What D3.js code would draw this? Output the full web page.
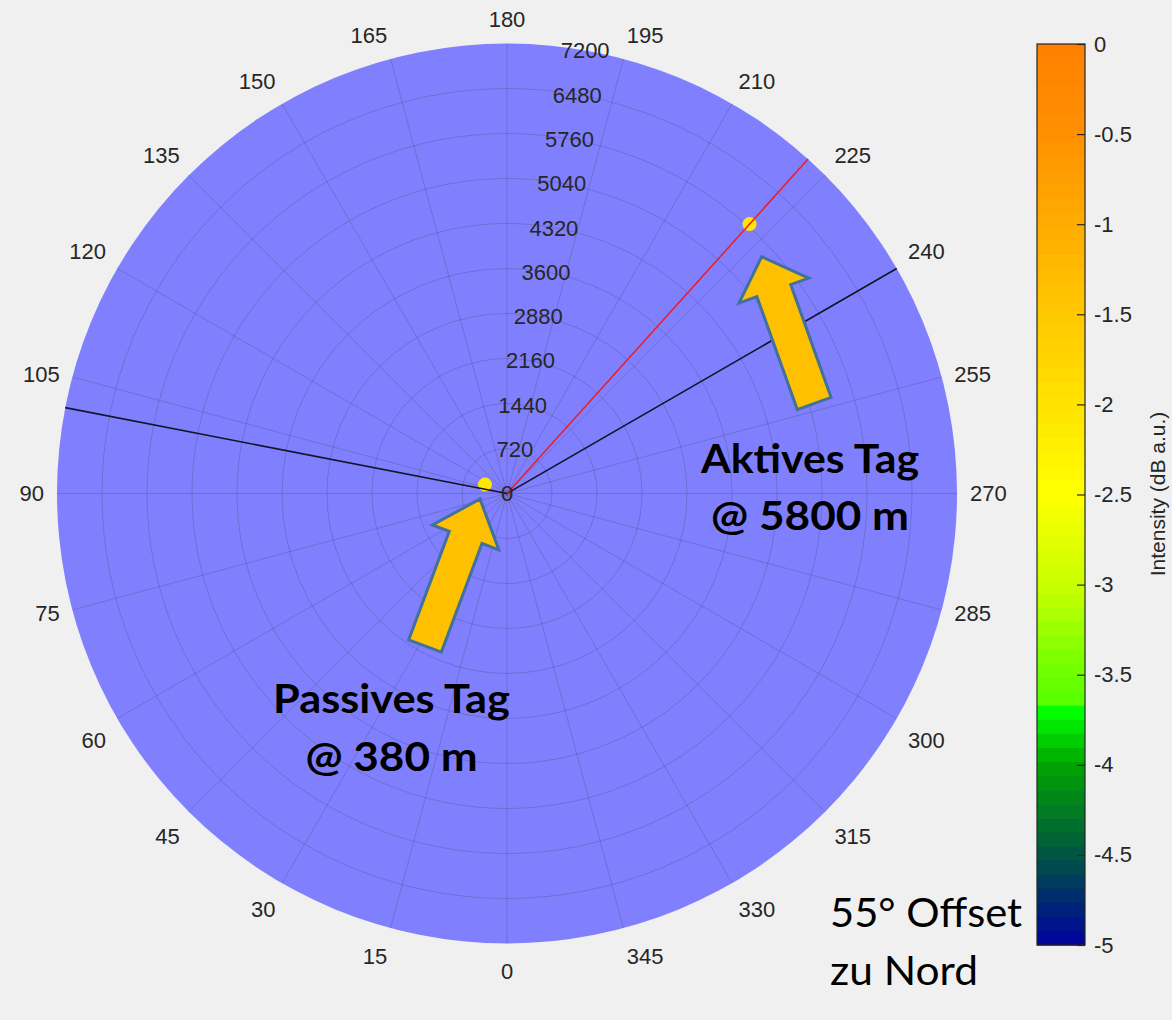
<!DOCTYPE html>
<html>
<head>
<meta charset="utf-8">
<script src="https://cdn.jsdelivr.net/npm/d3@7"></script>
<style>
  html, body { margin: 0; padding: 0; background: #f0f0f0; }
  svg { display: block; }
</style>
</head>
<body>
<svg id="chart" width="1172" height="1020"></svg>
<script>
// ---- data ----
const angleTicks = d3.range(0, 360, 15);                 // bearing grid, degrees
const rangeTicks = d3.range(0, 7201, 720);               // range rings, metres
const rangeMax = 7200;
const sectorEdges = [101, 240];                          // sector boundary bearings
const beamBearing = [222];                               // bearing of the active reading
const tagNames = ["Passives Tag", "Aktives Tag"];
const tagBearings = [112, 222];
const tagRanges = [380, 5800];
const tagIntensity = [-2.1, -2.1];
const cbTicks = [0, -0.5, -1, -1.5, -2, -2.5, -3, -3.5, -4, -4.5, -5];
const cmapValues = [0, -0.5, -1, -1.5, -2, -2.5, -3, -3.5, -3.70, -3.71, -4, -4.5, -5];
const cmapColors = ["#ff8000", "#ff9100", "#ffac00", "#ffc800", "#ffe200", "#ffff00",
                    "#c8ff00", "#6eff00", "#50ff00", "#00ff00", "#00a500", "#005541", "#0000a0"];
const tagLabelLines = [["Passives Tag", "@ 380 m"], ["Aktives Tag", "@ 5800 m"]];
const noteLines = ["55° Offset", "zu Nord"];
const cbTitle = "Intensity (dB a.u.)";

// ---- layout ----
const W = 1172, H = 1020;
const cx = 507, cy = 493.5, R = 450;
const axisFont = "'Liberation Sans', Arial, sans-serif";
const noteFont = "Lato, 'Open Sans', sans-serif";
const textGray = "#262626";

const svg = d3.select("#chart");
svg.append("rect").attr("width", W).attr("height", H).attr("fill", "#f0f0f0");

const r = d3.scaleLinear().domain([0, rangeMax]).range([0, R]);
// bearing 0 at the bottom, increasing clockwise
const a = d3.scaleLinear().domain([0, 360]).range([Math.PI, 3 * Math.PI]);
const pt = (deg, m) => d3.pointRadial(a(deg), r(m));

const polar = svg.append("g").attr("transform", `translate(${cx},${cy})`);

// disk
polar.append("circle").attr("r", R).attr("fill", "#8080ff");

// grid
const grid = polar.append("g").attr("fill", "none").attr("stroke", "#262626")
  .attr("stroke-opacity", 0.2).attr("stroke-width", 1);
grid.selectAll("circle").data(rangeTicks.filter(d => d > 0 && d < rangeMax)).join("circle")
  .attr("r", d => r(d));
grid.selectAll("line").data(angleTicks).join("line")
  .attr("x1", 0).attr("y1", 0)
  .attr("x2", d => pt(d, rangeMax)[0]).attr("y2", d => pt(d, rangeMax)[1]);

// tag markers
const cmap = d3.scaleLinear().domain(cmapValues).range(cmapColors).clamp(true);
polar.selectAll("circle.tag").data(tagNames).join("circle").attr("class", "tag")
  .attr("cx", (d, i) => pt(tagBearings[i], tagRanges[i])[0])
  .attr("cy", (d, i) => pt(tagBearings[i], tagRanges[i])[1])
  .attr("r", 7)
  .attr("fill", (d, i) => cmap(tagIntensity[i]));

// sector edges and bearing line
polar.selectAll("line.edge").data(sectorEdges).join("line").attr("class", "edge")
  .attr("x1", 0).attr("y1", 0)
  .attr("x2", d => pt(d, rangeMax)[0]).attr("y2", d => pt(d, rangeMax)[1])
  .attr("stroke", "#14142a").attr("stroke-width", 1.6);
polar.selectAll("line.beam").data(beamBearing).join("line").attr("class", "beam")
  .attr("x1", 0).attr("y1", 0)
  .attr("x2", d => pt(d, rangeMax)[0]).attr("y2", d => pt(d, rangeMax)[1])
  .attr("stroke", "#e8202a").attr("stroke-width", 1.6);

// range labels along bearing 190
const rLabelBearing = 190;
polar.selectAll("text.rl").data(rangeTicks).join("text").attr("class", "rl")
  .attr("x", d => pt(rLabelBearing, d)[0])
  .attr("y", d => pt(rLabelBearing, d)[1])
  .attr("dy", "0.36em")
  .attr("text-anchor", "middle")
  .attr("font-family", axisFont).attr("font-size", 22).attr("fill", textGray)
  .text(d => d);

// bearing labels outside the disk, aligned away from the rim
const gap = 13, halfUp = 11, halfDown = 15;
const al = polar.selectAll("text.al").data(angleTicks).join("text").attr("class", "al")
  .attr("font-family", axisFont).attr("font-size", 22).attr("fill", textGray)
  .attr("text-anchor", "middle").attr("dy", "0.36em")
  .text(d => d);
al.each(function(d) {
  const w = this.getComputedTextLength();
  const [ux, uy] = d3.pointRadial(a(d), 1);
  const [px, py] = d3.pointRadial(a(d), R + gap);
  const sx = Math.abs(ux) < 0.01 ? 0 : Math.sign(ux);
  const sy = Math.abs(uy) < 0.3 ? 0 : Math.sign(uy);
  d3.select(this)
    .attr("x", px + sx * w / 2)
    .attr("y", py + (sy < 0 ? -halfUp : sy > 0 ? halfDown : 0));
});

// ---- colorbar ----
const cbX = 1037, cbW = 48, cbTop = 44, cbBot = 945;
const cbY = d3.scaleLinear().domain([0, -5]).range([cbTop, cbBot]);
const nBands = 64;
const bandEdges = d3.range(nBands + 1).map(i => cbY.domain()[0] + (cbY.domain()[1] - cbY.domain()[0]) * i / nBands);
const cb = svg.append("g");
cb.selectAll("rect.band").data(d3.range(nBands)).join("rect").attr("class", "band")
  .attr("x", cbX).attr("width", cbW)
  .attr("y", i => cbY(bandEdges[i]))
  .attr("height", i => cbY(bandEdges[i + 1]) - cbY(bandEdges[i]) + 0.6)
  .attr("fill", i => cmap((bandEdges[i] + bandEdges[i + 1]) / 2));
cb.append("rect").attr("x", cbX).attr("y", cbTop).attr("width", cbW).attr("height", cbBot - cbTop)
  .attr("fill", "none").attr("stroke", textGray).attr("stroke-width", 1.2);

const cbAxis = cb.append("g").attr("transform", `translate(${cbX + cbW},0)`)
  .call(d3.axisRight(cbY).tickValues(cbTicks).tickFormat(d => String(d))
    .tickSizeInner(-8).tickSizeOuter(0).tickPadding(9));
cbAxis.select(".domain").remove();
cbAxis.selectAll("line").attr("stroke", textGray).attr("stroke-width", 1.2);
cbAxis.selectAll("text").attr("font-family", axisFont).attr("font-size", 22).attr("fill", textGray);

cb.append("text")
  .attr("transform", `translate(1165,494) rotate(-90)`)
  .attr("text-anchor", "middle")
  .attr("font-family", axisFont).attr("font-size", 21).attr("fill", textGray)
  .text(cbTitle);

// ---- annotation arrows ----
const arrows = [
  { tip: [480, 499], tail: [425, 646], shaft: 35, head: 71, headLen: 41 },
  { tip: [761.7, 256.7], tail: [814.2, 403.5], shaft: 36, head: 74, headLen: 36 }
];
function arrowPath(d) {
  const dx = d.tip[0] - d.tail[0], dy = d.tip[1] - d.tail[1];
  const L = Math.hypot(dx, dy), ux = dx / L, uy = dy / L, nx = -uy, ny = ux;
  const bx = d.tip[0] - ux * d.headLen, by = d.tip[1] - uy * d.headLen;
  const p = [
    [d.tail[0] + nx * d.shaft / 2, d.tail[1] + ny * d.shaft / 2],
    [bx + nx * d.shaft / 2, by + ny * d.shaft / 2],
    [bx + nx * d.head / 2, by + ny * d.head / 2],
    d.tip,
    [bx - nx * d.head / 2, by - ny * d.head / 2],
    [bx - nx * d.shaft / 2, by - ny * d.shaft / 2],
    [d.tail[0] - nx * d.shaft / 2, d.tail[1] - ny * d.shaft / 2]
  ];
  return d3.line()(p) + "Z";
}
svg.selectAll("path.arrow").data(arrows).join("path").attr("class", "arrow")
  .attr("d", arrowPath)
  .attr("fill", "#ffc000").attr("stroke", "#41719c").attr("stroke-width", 3)
  .attr("stroke-linejoin", "miter");

// ---- annotation texts ----
const tagLabelPos = [
  { x: 391.5, y: [713, 771], w: [237, 172] },
  { x: 810, y: [473, 530], w: [218, 198] }
];
tagLabelLines.forEach((lines, i) => {
  lines.forEach((t, j) => {
    svg.append("text")
      .attr("x", tagLabelPos[i].x).attr("y", tagLabelPos[i].y[j])
      .attr("text-anchor", "middle")
      .attr("font-family", noteFont).attr("font-weight", 700).attr("font-size", 41)
      .attr("textLength", tagLabelPos[i].w[j]).attr("lengthAdjust", "spacingAndGlyphs")
      .attr("fill", "#000").text(t);
  });
});
const notePos = { x: 830, y: [927, 985], w: [192, 148] };
noteLines.forEach((t, j) => {
  svg.append("text")
    .attr("x", notePos.x).attr("y", notePos.y[j])
    .attr("font-family", noteFont).attr("font-size", 40)
    .attr("textLength", notePos.w[j]).attr("lengthAdjust", "spacingAndGlyphs")
    .attr("fill", "#000").text(t);
});
</script>
</body>
</html>
